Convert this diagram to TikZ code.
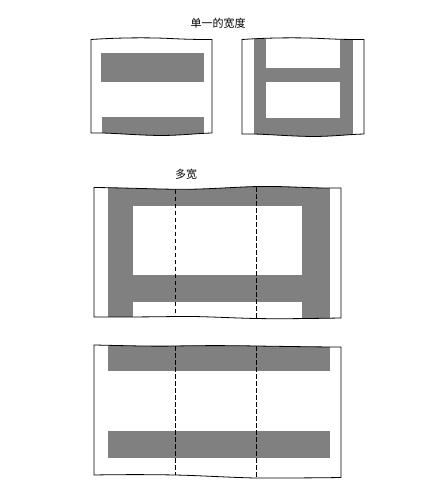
\documentclass[tikz,border=0pt]{standalone}
\usepackage{fontspec}
\newfontfamily\cjk{Noto Sans CJK SC}
\definecolor{bandgray}{HTML}{808080}
\begin{document}
\begin{tikzpicture}[x=1pt,y=-1pt,
  band/.style={fill=bandgray,draw=none},
  edge/.style={draw=black,line width=0.8pt},
  fold/.style={draw=black,line width=0.7pt,dash pattern=on 4.5pt off 2.5pt},
  title/.style={font=\cjk\fontsize{11}{13}\selectfont,inner sep=0pt}]
\useasboundingbox (0,0) rectangle (440,486);
\fill[white] (0,0) rectangle (440,486);

% ---------- Box A (single width, horizontal bands)
\def\boxA{(91,39.5) .. controls (120,37.5) and (150,37.5) .. (170,38.5) .. controls (190,39.5) and (200,39.5) .. (212,39.5)
  -- (212,133) .. controls (195,133.5) and (180,135.5) .. (160,135.5) .. controls (130,135) and (110,132.5) .. (91,133) -- cycle}
\begin{scope}
  \clip \boxA;
  \path[band] (101,53) rectangle (204,82);
  \path[band] (101.5,117) rectangle (203.5,140);
\end{scope}
\draw[edge] \boxA;

% ---------- Box B (single width, frame)
\def\boxB{(242,39.5) .. controls (271,37.5) and (301,37.5) .. (321,38.5) .. controls (341,39.5) and (351,39.5) .. (364,39.5)
  -- (364,134) .. controls (347,134.5) and (332,136.5) .. (312,136.5) .. controls (282,136) and (262,133.5) .. (242,134) -- cycle}
\begin{scope}
  \clip \boxB;
  \path[band] (254,30) rectangle (266,140);
  \path[band] (340,30) rectangle (352.5,140);
  \path[band] (254,68) rectangle (352.5,82);
  \path[band] (254,118) rectangle (352.5,140);
\end{scope}
\draw[edge] \boxB;

\node[title] (t1) at (218,23) {单一的宽度};
\node[title] (t2) at (186,174) {多宽};

% ---------- Box C (multi width, frame)
\def\boxC{(94,187.5) .. controls (140,188) and (170,190) .. (200,189) .. controls (230,188) and (250,186) .. (275,186.5) .. controls (300,187) and (320,188.5) .. (341,188)
  -- (341,318) .. controls (310,318.5) and (280,319) .. (256,318.5) .. controls (230,318) and (200,316) .. (175,316.5) .. controls (150,317) and (120,317) .. (94,317) -- cycle}
\begin{scope}
  \clip \boxC;
  \path[band] (107.5,180) rectangle (133,325);
  \path[band] (301.5,180) rectangle (329.5,325);
  \path[band] (107.5,180) rectangle (329.5,205.5);
  \path[band] (107.5,275) rectangle (329.5,301.5);
\end{scope}
\draw[edge] \boxC;
\coordinate (c1t) at (175,189.5);
\coordinate (c1b) at (175,316.5);
\coordinate (c2t) at (256.5,187);
\coordinate (c2b) at (256.5,318.5);
\draw[fold] (c1t) -- (c1b);
\draw[fold] (c2t) -- (c2b);

% ---------- Box D (multi width, horizontal bands)
\def\boxD{(94,345) .. controls (120,345.5) and (150,346.5) .. (175,346) .. controls (200,345.5) and (230,345.5) .. (256,346) .. controls (290,346.5) and (320,347) .. (341,347)
  -- (341,477.5) .. controls (310,478) and (280,478) .. (256,478) .. controls (230,477.5) and (200,475.5) .. (175,475) .. controls (150,474.5) and (120,474.5) .. (94,475) -- cycle}
\begin{scope}
  \clip \boxD;
  \path[band] (107.5,340) rectangle (329.5,371);
  \path[band] (107.5,431) rectangle (330,457.5);
\end{scope}
\draw[edge] \boxD;
\coordinate (d1t) at (175,346);
\coordinate (d1b) at (175,475);
\coordinate (d2t) at (256.5,346);
\coordinate (d2b) at (256.5,478);
\draw[fold] (d1t) -- (d1b);
\draw[fold] (d2t) -- (d2b);
\end{tikzpicture}
\end{document}
